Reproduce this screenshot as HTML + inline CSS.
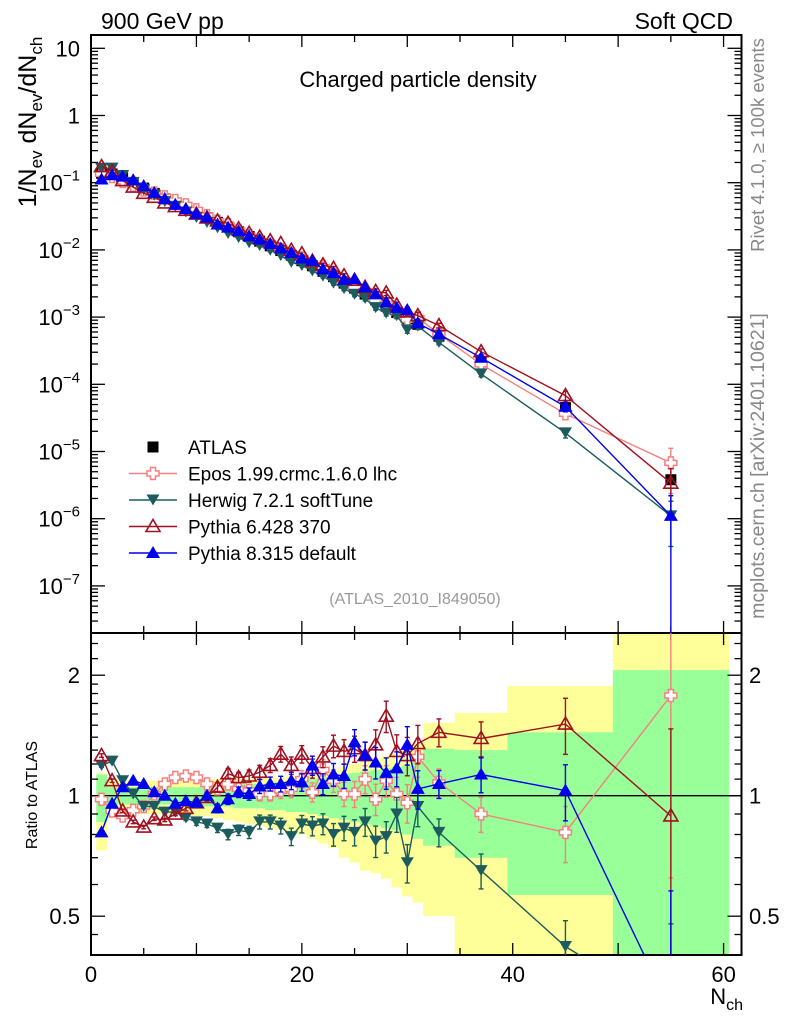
<!DOCTYPE html>
<html><head><meta charset="utf-8"><style>
html,body{margin:0;padding:0;background:#fff;width:786px;height:1024px;overflow:hidden;}
svg{display:block;font-family:"Liberation Sans",sans-serif;}
</style></head><body>
<svg id="chart" width="786" height="1024" viewBox="0 0 786 1024" xmlns="http://www.w3.org/2000/svg">
<defs>
<clipPath id="clipTop"><rect x="91" y="35" width="650.5" height="598"/></clipPath>
<clipPath id="clipRat"><rect x="91" y="633" width="650.5" height="322"/></clipPath>
</defs>
<g id="bands" clip-path="url(#clipRat)"></g>
<g id="axes"></g>
<g id="series"></g>
<text x="101" y="29" font-size="23">900 GeV pp</text>
<text x="733" y="29" font-size="23" text-anchor="end">Soft QCD</text>
<text x="418" y="87" font-size="22" text-anchor="middle">Charged particle density</text>
<text x="415" y="604" font-size="16" fill="#999" text-anchor="middle">(ATLAS_2010_I849050)</text>
<text transform="translate(764,145) rotate(-90)" font-size="18.5" fill="#888" text-anchor="middle">Rivet 4.1.0, ≥ 100k events</text>
<text transform="translate(764,466) rotate(-90)" font-size="19.5" fill="#888" text-anchor="middle">mcplots.cern.ch [arXiv:2401.10621]</text>
<text transform="translate(36,122) rotate(-90)" font-size="25" text-anchor="middle">1/N<tspan font-size="17" dy="6">ev</tspan><tspan dy="-6"> dN</tspan><tspan font-size="17" dy="6">ev</tspan><tspan dy="-6">/dN</tspan><tspan font-size="17" dy="6">ch</tspan></text>
<text transform="translate(37,795) rotate(-90)" font-size="16" text-anchor="middle">Ratio to ATLAS</text>
<text x="743" y="1004" font-size="22" text-anchor="end">N<tspan font-size="16" dy="6">ch</tspan></text>
<g id="legend"></g>
</svg>
<script>
const NS="http://www.w3.org/2000/svg";
// ---- data ----
const nch=[1,2,3,4,5,6,7,8,9,10,11,12,13,14,15,16,17,18,19,20,21,22,23,24,25,26,27,28,29,30,31,33,37,45,55];
const binLo=[0.5,1.5,2.5,3.5,4.5,5.5,6.5,7.5,8.5,9.5,10.5,11.5,12.5,13.5,14.5,15.5,16.5,17.5,18.5,19.5,20.5,21.5,22.5,23.5,24.5,25.5,26.5,27.5,28.5,29.5,30.5,31.5,34.5,39.5,49.5];
const binHi=[1.5,2.5,3.5,4.5,5.5,6.5,7.5,8.5,9.5,10.5,11.5,12.5,13.5,14.5,15.5,16.5,17.5,18.5,19.5,20.5,21.5,22.5,23.5,24.5,25.5,26.5,27.5,28.5,29.5,30.5,31.5,34.5,39.5,49.5,60.5];
const atlas=[0.138,0.135,0.1175,0.1,0.0832,0.0692,0.0575,0.049,0.0417,0.0355,0.0302,0.0257,0.0219,0.0186,0.0158,0.0135,0.0115,0.0098,0.0083,0.0069,0.0058,0.0048,0.004,0.0032,0.0027,0.0022,0.0018,0.00145,0.00117,0.00095,0.00078,0.00052,0.00022,4.5e-5,3.8e-6];
const totDn=[0.27,0.12,0.11,0.1,0.1,0.1,0.1,0.1,0.1,0.11,0.11,0.12,0.13,0.14,0.15,0.16,0.17,0.18,0.19,0.2,0.22,0.24,0.26,0.3,0.32,0.35,0.36,0.38,0.41,0.44,0.46,0.5,0.62,0.62,0.62];
const totUp=[0.14,0.1,0.09,0.09,0.09,0.09,0.09,0.09,0.09,0.09,0.1,0.1,0.1,0.1,0.1,0.11,0.11,0.11,0.12,0.12,0.13,0.14,0.16,0.18,0.2,0.22,0.24,0.26,0.28,0.3,0.35,0.52,0.61,0.88,1.6];
const statDn=[0.14,0.05,0.05,0.05,0.05,0.05,0.05,0.05,0.05,0.05,0.06,0.06,0.06,0.07,0.07,0.07,0.08,0.08,0.09,0.09,0.1,0.11,0.12,0.13,0.14,0.15,0.16,0.17,0.18,0.2,0.22,0.25,0.3,0.435,0.62];
const statUp=[0.13,0.05,0.05,0.05,0.05,0.05,0.05,0.05,0.05,0.05,0.06,0.06,0.06,0.07,0.07,0.07,0.08,0.08,0.09,0.09,0.1,0.11,0.12,0.13,0.14,0.15,0.16,0.17,0.18,0.19,0.22,0.31,0.3,0.44,1.06];
const mcErr=[0.01,0.01,0.01,0.01,0.01,0.01,0.01,0.01,0.015,0.02,0.02,0.025,0.03,0.03,0.035,0.04,0.04,0.045,0.05,0.05,0.055,0.06,0.065,0.07,0.075,0.08,0.09,0.09,0.1,0.11,0.11,0.08,0.1,0.16,0.65];
const rEpos=[0.98,0.916,0.89,0.92,0.94,1.01,1.07,1.11,1.12,1.11,1.07,1.04,1.07,1.04,1.03,1.01,1.01,1.03,1.04,1.1,1.02,1.16,1.09,1.01,1.01,1.1,0.98,1.09,1.01,0.96,1.25,1.08,0.9,0.81,1.78];
const rHerwig=[1.19,1.22,1.09,1.01,0.94,0.94,0.91,0.91,0.88,0.86,0.85,0.83,0.8,0.82,0.81,0.86,0.86,0.84,0.79,0.85,0.84,0.85,0.8,0.83,0.81,0.86,0.77,0.79,0.9,0.68,0.94,0.81,0.65,0.42,0.29];
const rPy6=[1.26,1.09,0.916,0.86,0.835,0.876,0.87,0.9,0.93,0.96,0.99,1.05,1.135,1.11,1.12,1.145,1.19,1.27,1.19,1.27,1.17,1.25,1.33,1.29,1.31,1.26,1.34,1.58,1.29,1.26,1.35,1.44,1.39,1.51,0.89];
const rPy8=[0.81,0.955,1.05,1.09,1.07,1.02,1.0,0.955,0.97,0.96,1.0,0.93,0.98,1.02,1.01,1.055,1.07,1.07,1.09,1.08,1.19,1.07,1.13,1.12,1.36,1.26,1.21,1.14,1.17,1.34,1.04,1.07,1.13,1.03,0.29];
const yTickExp=[1,0,-1,-2,-3,-4,-5,-6,-7];
const ratioTicks=[0.5,1,2];
const xTicks=[0,20,40,60];
// ---- scales ----
const X0=91,X1=741.5,XMAX=61.7;
function X(n){return X0+n*(X1-X0)/XMAX;}
function Y(v){return 48.3+(1-Math.log10(v))*67.2;}
function R(r){return 795.7-Math.log2(r)*120.5;}
function el(tag,at,parent){const e=document.createElementNS(NS,tag);for(const k in at)e.setAttribute(k,at[k]);if(parent)parent.appendChild(e);return e;}
const axes=document.getElementById('axes');
const bands=document.getElementById('bands');
const series=document.getElementById('series');
for(let i=0;i<nch.length;i++){
  const y=el('rect',{x:X(binLo[i]),y:R(1+totUp[i]),width:X(binHi[i])-X(binLo[i])+0.3,height:R(Math.max(1-totDn[i],0.05))-R(1+totUp[i]),fill:'#ffff99'},bands);
  
  
}
for(let i=0;i<nch.length;i++){
  const g=el('rect',{x:X(binLo[i]),y:R(1+statUp[i]),width:X(binHi[i])-X(binLo[i])+0.3,height:R(Math.max(1-statDn[i],0.05))-R(1+statUp[i]),fill:'#99ff99'},bands);
  
  
}
el('rect',{x:X0,y:35,width:X1-X0,height:598,fill:'none',stroke:'#000','stroke-width':2},axes);
el('rect',{x:X0,y:633,width:X1-X0,height:322,fill:'none',stroke:'#000','stroke-width':2},axes);
el('line',{x1:X0,x2:X1,y1:R(1),y2:R(1),stroke:'#000','stroke-width':1.3},axes);
for(let n=0;n<=60;n+=5){
  const L=(n%10===0)?12:7;
  [[35,1],[633,-1],[633,1],[955,-1]].forEach(([y0,d])=>{el('line',{x1:X(n),x2:X(n),y1:y0,y2:y0+d*L,stroke:'#000','stroke-width':1.3},axes);});
}
xTicks.forEach(n=>{const t=el('text',{x:X(n),y:982,'font-size':22,'text-anchor':'middle'},axes);t.textContent=n;

});
for(let e=-8;e<=1;e++){for(let m=1;m<10;m++){const v=m*Math.pow(10,e);const y=Y(v);if(y<35||y>633)continue;const L=m===1?14:7;
el('line',{x1:X0,x2:X0+L,y1:y,y2:y,stroke:'#000','stroke-width':1.3},axes);el('line',{x1:X1,x2:X1-L,y1:y,y2:y,stroke:'#000','stroke-width':1.3},axes);}}
yTickExp.forEach(e=>{const t=el('text',{x:80,y:Y(Math.pow(10,e))+8,'font-size':22,'text-anchor':'end'},axes);
if(e===1)t.textContent='10';else if(e===0)t.textContent='1';else{t.textContent='10';const s=el('tspan',{'font-size':15,dy:-10},t);s.textContent='−'+(-e);}

});
[0.4,0.45,0.6,0.7,0.8,0.9,1.1,1.2,1.3,1.4,1.5,1.6,1.7,1.8,1.9,2.2,2.4].forEach(r=>{const y=R(r);if(y<633||y>955)return;
el('line',{x1:X0,x2:X0+7,y1:y,y2:y,stroke:'#000','stroke-width':1.3},axes);el('line',{x1:X1,x2:X1-7,y1:y,y2:y,stroke:'#000','stroke-width':1.3},axes);});
ratioTicks.forEach(r=>{const y=R(r);el('line',{x1:X0,x2:X0+14,y1:y,y2:y,stroke:'#000','stroke-width':1.3},axes);el('line',{x1:X1,x2:X1-14,y1:y,y2:y,stroke:'#000','stroke-width':1.3},axes);
const t=el('text',{x:80,y:y+8,'font-size':22,'text-anchor':'end'},axes);t.textContent=r;


const t2=el('text',{x:749,y:y+8,'font-size':22},axes);t2.textContent=r;

});
function marker(kind,x,y,col,parent){
  if(kind==='sq')return el('rect',{x:x-5.5,y:y-5.5,width:11,height:11,fill:'#000'},parent);
  if(kind==='cross'){const a=2.5,b=6;return el('path',{d:`M${x-a},${y-b}h${2*a}v${b-a}h${b-a}v${2*a}h${-(b-a)}v${b-a}h${-2*a}v${-(b-a)}h${-(b-a)}v${-2*a}h${b-a}z`,fill:'#fff',stroke:col,'stroke-width':1.5},parent);}
  if(kind==='down')return el('path',{d:`M${x-6.5},${y-5.5}h13l-6.5,11z`,fill:col},parent);
  if(kind==='upopen')return el('path',{d:`M${x},${y-7}l7,12h-14z`,fill:'none',stroke:col,'stroke-width':1.6},parent);
  return el('path',{d:`M${x},${y-7}l7,12h-14z`,fill:col},parent);
}
const mcs=[
 {name:'epos',r:rEpos,col:'#f58080',kind:'cross',label:'Epos 1.99.crmc.1.6.0 lhc'},
 {name:'herwig',r:rHerwig,col:'#1c5c5e',kind:'down',label:'Herwig 7.2.1 softTune'},
 {name:'pythia6',r:rPy6,col:'#a01020',kind:'upopen',label:'Pythia 6.428 370'},
 {name:'pythia8',r:rPy8,col:'#0000ee',kind:'up',label:'Pythia 8.315 default'}];
const gTop=el('g',{'clip-path':'url(#clipTop)'},series);
const gRat=el('g',{'clip-path':'url(#clipRat)'},series);
const gData=el('g',{},gTop);


for(let i=0;i<nch.length;i++){
  el('line',{x1:X(nch[i]),x2:X(nch[i]),y1:Y(atlas[i]*(1+statUp[i]*0.3)),y2:Y(atlas[i]*(1-statDn[i]*0.3)),stroke:'#000','stroke-width':1.3},gData);
  const m=marker('sq',X(nch[i]),Y(atlas[i]),'#000',gData);
  
  
}
mcs.forEach(s=>{
  ['top','rat'].forEach(p=>{
    const par=el('g',{},p==='top'?gTop:gRat);
    
    
    const fy=i=>p==='top'?Y(atlas[i]*s.r[i]):R(s.r[i]);
    let d='';for(let i=0;i<nch.length;i++)d+=(i?'L':'M')+X(nch[i]).toFixed(1)+','+fy(i).toFixed(1);
    el('path',{d:d,fill:'none',stroke:s.col,'stroke-width':1.4},par);
    for(let i=0;i<nch.length;i++){
      const e=mcErr[i]*(s.name==='pythia8'&&i===nch.length-1?1.53:1);
      const lo=Math.max(1-e,0.001);
      const v=p==='top'?atlas[i]*s.r[i]:s.r[i];
      const y1=p==='top'?Y(v*(1+e)):R(v*(1+e)), y2=p==='top'?Y(v*lo):R(v*lo);
      if(Math.abs(y2-y1)>3){el('line',{x1:X(nch[i]),x2:X(nch[i]),y1:y1,y2:y2,stroke:s.col,'stroke-width':1.4},par);
        el('line',{x1:X(nch[i])-2.5,x2:X(nch[i])+2.5,y1:y1,y2:y1,stroke:s.col,'stroke-width':1.4},par);
        el('line',{x1:X(nch[i])-2.5,x2:X(nch[i])+2.5,y1:y2,y2:y2,stroke:s.col,'stroke-width':1.4},par);}
      const m=marker(s.kind,X(nch[i]),fy(i),s.col,par);
      
      
    }
  });
});
const lg=document.getElementById('legend');
const ly0=447,ldy=26.5;
marker('sq',153,ly0,'#000',lg);
const lt0=el('text',{x:188,y:ly0+7,'font-size':19},lg);lt0.textContent='ATLAS';


mcs.forEach((s,k)=>{const y=ly0+(k+1)*ldy;
  el('line',{x1:129,x2:177,y1:y,y2:y,stroke:s.col,'stroke-width':1.5},lg);
  marker(s.kind,153,y,s.col,lg);
  const t=el('text',{x:188,y:y+7,'font-size':19},lg);t.textContent=s.label;
  
  
});
</script>
</body></html>
